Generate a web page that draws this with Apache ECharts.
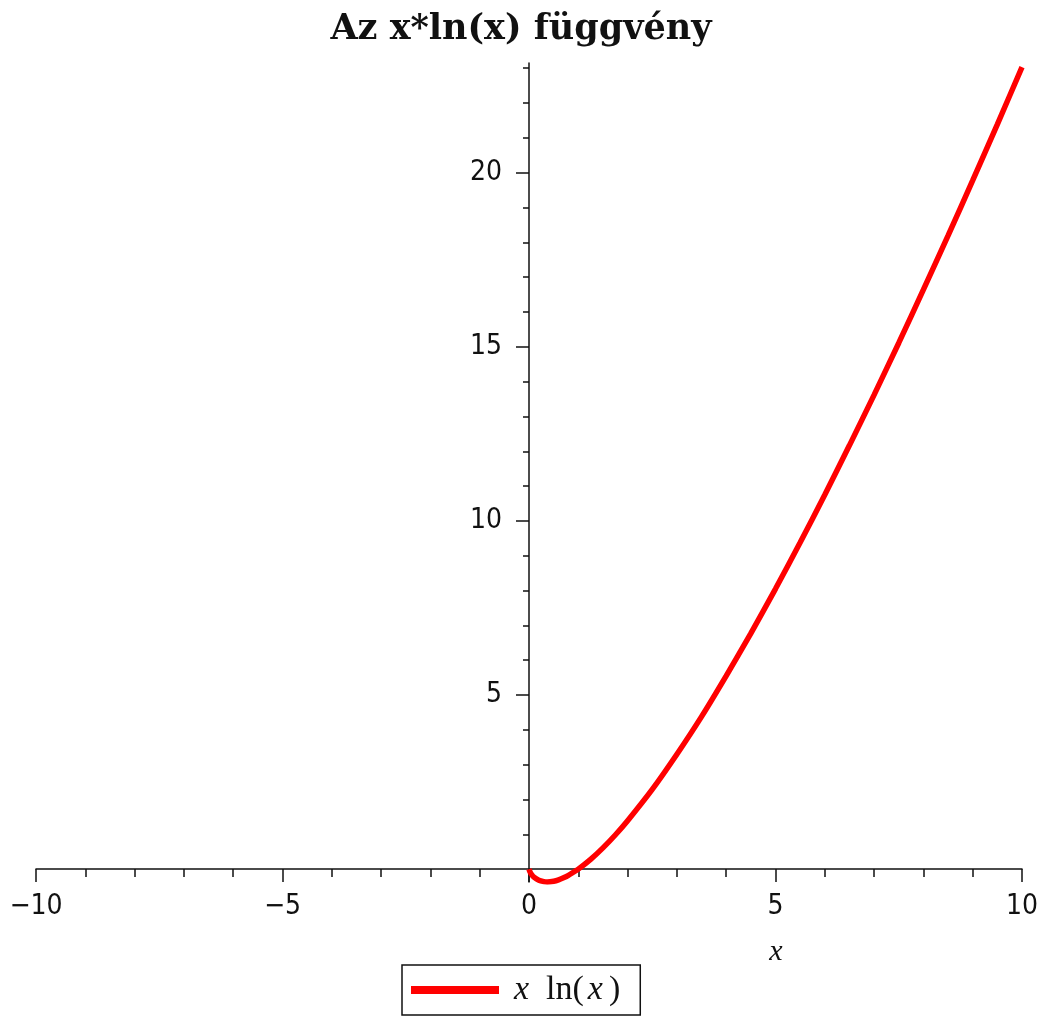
<!DOCTYPE html>
<html>
<head>
<meta charset="utf-8">
<script src="https://cdn.jsdelivr.net/npm/echarts@6/dist/echarts.min.js"></script>
<style>
  html, body { margin: 0; padding: 0; background: #fff; }
  #chart { width: 1042px; height: 1019px; }
</style>
</head>
<body>
<div id="chart"></div>
<script>
// x*ln(x)
var xs = [0, 0.02, 0.05, 0.1, 0.2, 0.3, 0.37, 0.5, 0.6, 0.7, 0.8, 0.9, 1, 1.25, 1.5, 1.75, 2, 2.5, 3, 3.5, 4, 4.5, 5, 5.5, 6, 6.5, 7, 7.5, 8, 8.5, 9, 9.5, 10];
var ys = [0, -0.08, -0.15, -0.23, -0.32, -0.36, -0.37, -0.35, -0.31, -0.25, -0.18, -0.09, 0, 0.28, 0.61, 0.98, 1.39, 2.29, 3.30, 4.38, 5.55, 6.77, 8.05, 9.38, 10.75, 12.17, 13.62, 15.11, 16.64, 18.19, 19.78, 21.39, 23.03];
var yLabels = [5, 10, 15, 20];
var yMinor = [1, 2, 3, 4, 6, 7, 8, 9, 11, 12, 13, 14, 16, 17, 18, 19, 21, 22, 23];

var chart = echarts.init(document.getElementById('chart'));
var black = '#111';
var numFont = '"Liberation Sans Narrow", "DejaVu Sans Condensed", sans-serif';
var serif = '"Liberation Serif", serif';

// the axes cross at (0,0): y=0 sits 12.9px above the grid bottom, x=0 493px right of grid left
var yMin = -0.37, yMax = 23.15;
var xZeroOffset = -12.9, yZeroOffset = -493;

chart.setOption({
  backgroundColor: '#fff',
  animation: false,
  title: {
    text: 'Az x*ln(x) függvény',
    left: 'center',
    top: 7,
    textStyle: { fontFamily: '"DejaVu Serif", serif', fontWeight: 'bold', fontSize: 35, color: black }
  },
  legend: {
    left: 402,
    top: 965,
    padding: [8, 20, 8, 9],
    borderColor: black,
    borderWidth: 1.5,
    borderRadius: 0,
    icon: 'rect',
    itemWidth: 88,
    itemHeight: 8,
    itemGap: 0,
    formatter: function () { return '{i|x}  ln({p|x})'; },
    textStyle: {
      fontFamily: serif,
      fontSize: 34,
      color: black,
      padding: [0, 0, 0, 10],
      rich: {
        i: { fontStyle: 'italic', fontFamily: serif, fontSize: 34, color: black },
        p: { fontStyle: 'italic', fontFamily: serif, fontSize: 34, color: black, padding: [0, 6, 0, 4] }
      }
    }
  },
  grid: { left: 36, right: 20, top: 63, bottom: 137, outerBoundsMode: 'none', containLabel: false },
  xAxis: {
    type: 'value',
    min: -10,
    max: 10,
    interval: 5,
    position: 'bottom',
    offset: xZeroOffset,
    name: 'x',
    nameLocation: 'middle',
    nameGap: 68,
    nameTextStyle: {
      fontFamily: serif, fontStyle: 'italic', fontSize: 30, color: black,
      padding: [0, 0, 0, 494]
    },
    axisLine: { onZero: false, lineStyle: { color: black, width: 1.5 } },
    axisTick: { inside: false, length: 13, lineStyle: { color: black, width: 1.5 } },
    minorTick: { show: true, splitNumber: 5, length: 8, lineStyle: { color: black, width: 1.5 } },
    axisLabel: {
      margin: 24, fontFamily: numFont, fontSize: 28, color: black,
      showMinLabel: true, showMaxLabel: true,
      formatter: function (v) { return String(v).replace('-', '\u2212'); }
    },
    splitLine: { show: false }
  },
  yAxis: [{
    type: 'value',
    min: yMin,
    max: yMax,
    position: 'left',
    offset: yZeroOffset,
    axisLine: { onZero: false, lineStyle: { color: black, width: 1.5 } },
    axisTick: { length: 13, customValues: yLabels, lineStyle: { color: black, width: 1.5 } },
    axisLabel: { margin: 27, customValues: yLabels, fontFamily: numFont, fontSize: 28, color: black },
    splitLine: { show: false }
  }, {
    type: 'value',
    min: yMin,
    max: yMax,
    position: 'left',
    offset: yZeroOffset,
    axisLine: { show: false, onZero: false },
    axisTick: { length: 6, customValues: yMinor, lineStyle: { color: black, width: 1.5 } },
    axisLabel: { show: false },
    splitLine: { show: false }
  }],
  series: [{
    name: 'x ln(x)',
    type: 'line',
    symbol: 'none',
    smooth: 0.2,
    lineStyle: { color: '#f00', width: 5.5 },
    itemStyle: { color: '#f00' },
    data: xs.map(function (x, i) { return [x, ys[i]]; })
  }]
});
</script>
</body>
</html>
